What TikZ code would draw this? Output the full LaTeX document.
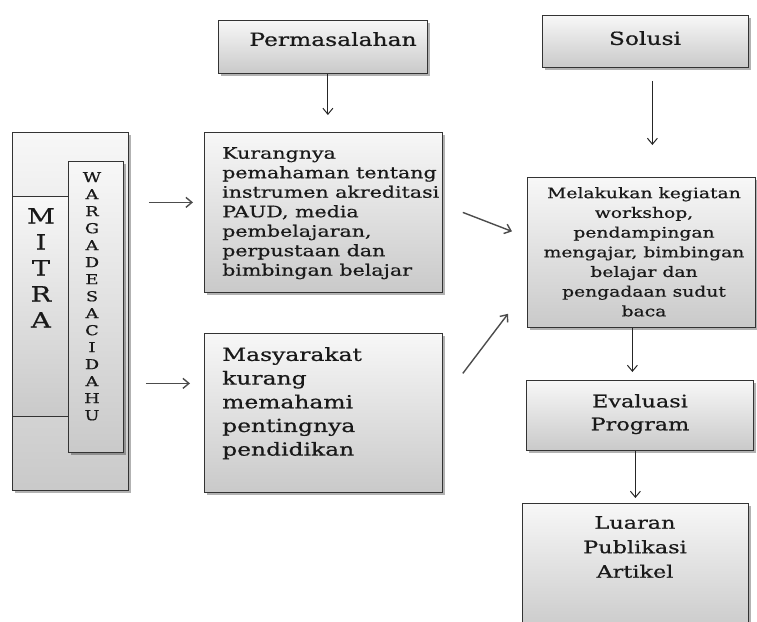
\documentclass[tikz,border=0pt]{standalone}
\usepackage{fontspec}
\setmainfont{DejaVu Serif}[FakeStretch=1.3, FakeBold=0.6]
\usetikzlibrary{arrows.meta,shadows}

\tikzset{
  kotak/.style={draw=black!80, line width=0.8pt, top color=gray!6, bottom color=gray!42,
    anchor=north west, inner sep=0pt},
  bayang/.style={drop shadow={shadow xshift=2.5pt, shadow yshift=-2.5pt, fill=black, opacity=0.3}},
  teks/.style={inner sep=0pt, text=black!90},
  panah/.style={-{Straight Barb[length=6pt, width=10pt]}, line width=1pt, draw=black!85},
  panahtebal/.style={-{Straight Barb[length=6pt, width=10pt]}, line width=1.4pt, draw=black!70}
}

\begin{document}
\begin{tikzpicture}[x=1pt, y=-1pt]
	\useasboundingbox (0,0) rectangle (757,621);
	% mitra
		\node[kotak, bayang, minimum width=116, minimum height=358] (mitra) at (12,132) {};
		\node[kotak, minimum width=56, minimum height=220] (mitraIn) at (12,196) {};
		\node[kotak, bayang, minimum width=55, minimum height=291] (warga) at (68,161) {};
		\node[teks, anchor=north, align=center, font=\fontsize{21}{26}\selectfont] (mitraTeks) at (41,208) {M\\I\\T\\R\\A};
		\node[teks, anchor=north, align=center, font=\fontsize{13.7}{17}\selectfont] (wargaTeks) at (92,172)
			{W\\A\\R\\G\\A\\D\\E\\S\\A\\C\\I\\D\\A\\H\\U};
	% permasalahan
		\node[kotak, bayang, minimum width=209, minimum height=53] (masalah) at (218,20) {};
		\node[teks, anchor=north, font=\fontsize{18}{22}\selectfont] (masalahTeks) at (333,32) {Permasalahan};
		\node[kotak, bayang, minimum width=238, minimum height=160] (kurang) at (204,132) {};
		\node[teks, anchor=north west, align=left, font=\fontsize{15.8}{19.5}\selectfont] (kurangTeks) at (222,147)
			{Kurangnya\\pemahaman tentang\\instrumen akreditasi\\PAUD, media\\pembelajaran,\\perpustaan dan\\bimbingan belajar};
		\node[kotak, bayang, minimum width=238, minimum height=159] (masy) at (204,333) {};
		\node[teks, anchor=north west, align=left, font=\fontsize{18}{23.7}\selectfont] (masyTeks) at (222,347)
			{Masyarakat\\kurang\\memahami\\pentingnya\\pendidikan};
	% solusi
		\node[kotak, bayang, minimum width=206, minimum height=52] (solusi) at (542,15) {};
		\node[teks, anchor=north, font=\fontsize{18}{22}\selectfont] (solusiTeks) at (645,31) {Solusi};
		\node[kotak, bayang, minimum width=228, minimum height=150] (lakukan) at (527,177) {};
		\node[teks, anchor=north, align=center, font=\fontsize{14.4}{19.7}\selectfont] (lakukanTeks) at (644,187)
			{Melakukan kegiatan\\workshop,\\pendampingan\\mengajar, bimbingan\\belajar dan\\pengadaan sudut\\baca};
		\node[kotak, bayang, minimum width=227, minimum height=70] (evaluasi) at (526,380) {};
		\node[teks, anchor=north, align=center, font=\fontsize{17.2}{23}\selectfont] (evaluasiTeks) at (640,394)
			{Evaluasi\\Program};
		\node[kotak, bayang, minimum width=226, minimum height=130] (luaran) at (522,503) {};
		\node[teks, anchor=north, align=center, font=\fontsize{17.2}{24.5}\selectfont] (luaranTeks) at (635,516)
			{Luaran\\Publikasi\\Artikel};
	% panah
		\coordinate (k1) at ([yshift=10]kurang.west);
		\coordinate (m1) at ([yshift=29.5]masy.west);
		\draw[panahtebal, shorten <=20, shorten >=11] (k1 -| mitra.east) -- (k1);
		\draw[panahtebal, shorten <=17, shorten >=14] (m1 -| mitra.east) -- (m1);
		\draw[panah, shorten >=17] ([xshift=5]masalah.south) -- ([xshift=5]masalah.south |- kurang.north);
		\draw[panah, shorten <=13, shorten >=32] ([xshift=7]solusi.south) -- ([xshift=7]solusi.south |- lakukan.north);
		\draw[panahtebal] ([xshift=20]kurang.east) -- ([xshift=-15,yshift=21]lakukan.west);
		\draw[panahtebal] ([xshift=20,yshift=39.5]masy.east) -- ([xshift=-19,yshift=14]lakukan.south west);
		\draw[panah, shorten >=8] ([xshift=-9]lakukan.south) -- ([xshift=-9]lakukan.south |- evaluasi.north);
		\draw[panah, shorten >=5] ([xshift=-4.5]evaluasi.south) -- ([xshift=-4.5]evaluasi.south |- luaran.north);
\end{tikzpicture}
\end{document}
